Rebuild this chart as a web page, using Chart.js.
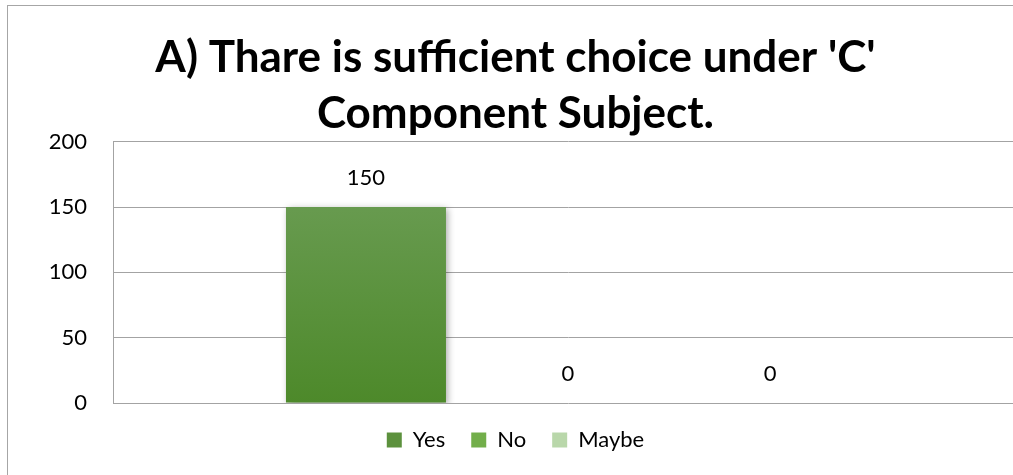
<!DOCTYPE html>
<html>
<head>
<meta charset="utf-8">
<script src="https://cdn.jsdelivr.net/npm/chart.js@4/dist/chart.umd.min.js"></script>
<style>
  html, body { margin: 0; padding: 0; background: #fff; width: 1013px; height: 475px; overflow: hidden; }
  #frame { position: absolute; left: 7px; top: 5px; width: 1006px; height: 470px; border-left: 1px solid #a6a6a6; border-top: 1px solid #a6a6a6; }
  #chartAnswers { position: absolute; left: 0; top: 0; display: block; }
</style>
</head>
<body>
<div id="frame"></div>
<canvas id="chartAnswers" width="1023" height="475"></canvas>
<script>
const titleLines = ["A) Thare is sufficient choice under 'C'", 'Component Subject.'];
const categories = [''];
const seriesNames = ['Yes', 'No', 'Maybe'];
const yesValues = [150];
const noValues = [0];
const maybeValues = [0];
const yTicks = [0, 50, 100, 150, 200];

const palette = {
  yes: ['#70a05b', '#4d892a'],
  no: ['#8cc16a', '#6aa842'],
  maybe: ['#c3dcb8', '#a9cd98'],
  legend: ['#5c913d', '#72ae4a', '#b9d7aa'],
  grid: '#a3a3a3'
};

const gradient = (pair) => (ctx) => {
  const area = ctx.chart.chartArea;
  if (!area) return pair[1];
  const g = ctx.chart.ctx.createLinearGradient(0, area.top, 0, area.bottom);
  g.addColorStop(0, pair[0]);
  g.addColorStop(1, pair[1]);
  return g;
};

const valueLabels = {
  id: 'valueLabels',
  beforeDatasetDraw(chart) {
    const c = chart.ctx;
    c.save();
    c.shadowColor = 'rgba(0,0,0,0.35)';
    c.shadowBlur = 7;
    c.shadowOffsetX = 2;
    c.shadowOffsetY = 2;
  },
  afterDatasetDraw(chart) {
    chart.ctx.restore();
  },
  afterDatasetsDraw(chart) {
    const c = chart.ctx;
    c.save();
    c.font = '22px Lato';
    c.fillStyle = '#000';
    c.textAlign = 'center';
    c.textBaseline = 'bottom';
    chart.data.datasets.forEach((ds, i) => {
      chart.getDatasetMeta(i).data.forEach((bar, j) => {
        c.fillText(String(ds.data[j]), bar.x, bar.y - 18);
      });
    });
    c.restore();
  }
};

new Chart(document.getElementById('chartAnswers').getContext('2d'), {
  type: 'bar',
  data: {
    labels: categories,
    datasets: [
      { label: seriesNames[0], data: yesValues, backgroundColor: gradient(palette.yes) },
      { label: seriesNames[1], data: noValues, backgroundColor: gradient(palette.no) },
      { label: seriesNames[2], data: maybeValues, backgroundColor: gradient(palette.maybe) }
    ]
  },
  plugins: [valueLabels],
  options: {
    responsive: false,
    animation: false,
    layout: { padding: { left: 8, top: 0, right: 0, bottom: 14 } },
    datasets: {
      bar: { categoryPercentage: 0.666, barPercentage: 0.792, borderWidth: 0 }
    },
    scales: {
      x: { display: false },
      y: {
        min: 0,
        max: 200,
        afterBuildTicks: (scale) => { scale.ticks = yTicks.map(v => ({ value: v })); },
        afterFit: (scale) => { scale.width = 105; },
        border: { display: true, color: palette.grid, width: 1 },
        grid: { color: palette.grid, lineWidth: 1, drawTicks: false },
        ticks: { padding: 26, color: '#000', font: { family: 'Lato', size: 22 } }
      }
    },
    plugins: {
      title: {
        display: true,
        text: titleLines,
        color: '#000',
        font: { family: 'Lato', size: 44, weight: 'bold', lineHeight: 1.27 },
        padding: { top: 30, bottom: 0 }
      },
      legend: {
        position: 'bottom',
        labels: {
          boxWidth: 15,
          boxHeight: 15,
          padding: 26,
          color: '#000',
          font: { family: 'Lato', size: 22 },
          generateLabels: (chart) => chart.data.datasets.map((ds, i) => ({
            text: ds.label,
            fillStyle: palette.legend[i],
            strokeStyle: palette.legend[i],
            lineWidth: 0,
            datasetIndex: i
          }))
        }
      },
      tooltip: { enabled: false }
    }
  }
});
</script>
</body>
</html>
